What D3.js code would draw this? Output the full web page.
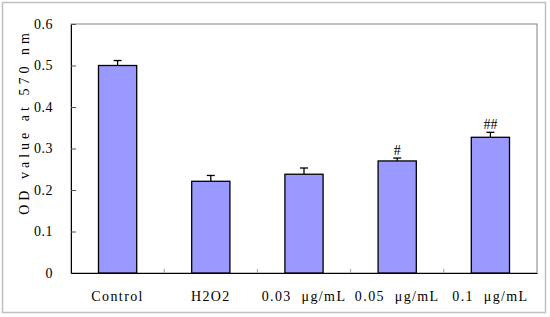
<!DOCTYPE html>
<html>
<head>
<meta charset="utf-8">
<script src="https://cdn.jsdelivr.net/npm/d3@7"></script>
<style>
  body { margin: 0; background: #fff; }
  text { font-family: "Liberation Serif", serif; fill: #000; }
</style>
</head>
<body>
<div id="chart"></div>
<script>
var categories = ['Control', 'H2O2', '0.03  μg/mL', '0.05  μg/mL', '0.1  μg/mL'];
var values = [0.500, 0.221, 0.238, 0.270, 0.327];
var errors = [0.012, 0.014, 0.015, 0.007, 0.012];
var marks = ['', '', '', '#', '##'];
var yTicks = [0, 0.1, 0.2, 0.3, 0.4, 0.5, 0.6];

var width = 550, height = 317;
var margin = {top: 24, right: 13, bottom: 44, left: 71};
var innerW = width - margin.left - margin.right;
var innerH = height - margin.top - margin.bottom;

var svg = d3.select('#chart').append('svg')
  .attr('width', width)
  .attr('height', height);

// outer frame
svg.append('rect')
  .attr('x', 2.5).attr('y', 2.5)
  .attr('width', 543).attr('height', 310)
  .attr('fill', '#fff')
  .attr('stroke', '#c0c0c0')
  .attr('stroke-width', 1.5);

var g = svg.append('g')
  .attr('transform', 'translate(' + margin.left + ',' + margin.top + ')');

var x = d3.scaleBand().domain(categories).range([0, innerW]).paddingInner(0.59).paddingOuter(0.295);
var xOuter = d3.scaleBand().domain(categories).range([0, innerW]);
var y = d3.scaleLinear().domain([0, 0.6]).range([innerH, 0]);

// plot area frame
g.append('rect')
  .attr('x', 0).attr('y', 0)
  .attr('width', innerW).attr('height', innerH)
  .attr('fill', 'none')
  .attr('stroke', '#808080')
  .attr('stroke-width', 1);

// y axis, ticks pointing inward
var yAxis = g.append('g')
  .call(d3.axisLeft(y).tickValues(yTicks).tickSize(-5).tickPadding(18)
    .tickFormat(function(d) { return d === 0 ? '0' : d3.format('.1f')(d); }));
yAxis.select('.domain').attr('stroke', '#000');
yAxis.selectAll('.tick line').attr('stroke', '#555');
yAxis.selectAll('text')
  .style('font-size', '14px')
  .attr('letter-spacing', '0.5px');

// x axis
var xAxis = g.append('g')
  .attr('transform', 'translate(0,' + innerH + ')')
  .call(d3.axisBottom(xOuter).tickSize(0).tickPadding(18));
xAxis.select('.domain').attr('stroke', '#000');
xAxis.selectAll('text')
  .style('font-size', '14px')
  .style('white-space', 'pre')
  .attr('letter-spacing', '1.4px');

// small inward ticks between categories
g.selectAll('.sep').data(categories.slice(1))
  .enter().append('line')
  .attr('x1', function(d) { return xOuter(d); })
  .attr('x2', function(d) { return xOuter(d); })
  .attr('y1', innerH).attr('y2', innerH - 4)
  .attr('stroke', '#999');

// y title
svg.append('text')
  .attr('transform', 'translate(29,' + (margin.top + 98) + ') rotate(-90)')
  .attr('text-anchor', 'middle')
  .attr('letter-spacing', '4px')
  .style('font-size', '14px')
  .text('OD value at 570 nm');

// error bars
var eb = g.selectAll('.err').data(categories)
  .enter().append('g');
eb.append('line')
  .attr('x1', function(d) { return x(d) + x.bandwidth() / 2; })
  .attr('x2', function(d) { return x(d) + x.bandwidth() / 2; })
  .attr('y1', function(d, i) { return y(values[i]); })
  .attr('y2', function(d, i) { return y(values[i] + errors[i]); })
  .attr('stroke', '#000').attr('stroke-width', 1.3);
eb.append('line')
  .attr('x1', function(d) { return x(d) + x.bandwidth() / 2 - 4; })
  .attr('x2', function(d) { return x(d) + x.bandwidth() / 2 + 4; })
  .attr('y1', function(d, i) { return y(values[i] + errors[i]); })
  .attr('y2', function(d, i) { return y(values[i] + errors[i]); })
  .attr('stroke', '#000').attr('stroke-width', 1.3);

// bars
g.selectAll('.bar').data(categories)
  .enter().append('rect')
  .attr('x', function(d) { return x(d); })
  .attr('y', function(d, i) { return y(values[i]); })
  .attr('width', x.bandwidth())
  .attr('height', function(d, i) { return innerH - y(values[i]); })
  .attr('fill', '#9999ff')
  .attr('stroke', '#000')
  .attr('stroke-width', 1.3);

// significance marks
g.selectAll('.mark').data(categories)
  .enter().append('text')
  .attr('x', function(d) { return x(d) + x.bandwidth() / 2; })
  .attr('y', function(d, i) { return y(values[i] + errors[i]) - 3; })
  .attr('text-anchor', 'middle')
  .style('font-size', '14px')
  .text(function(d, i) { return marks[i]; });
</script>
</body>
</html>
